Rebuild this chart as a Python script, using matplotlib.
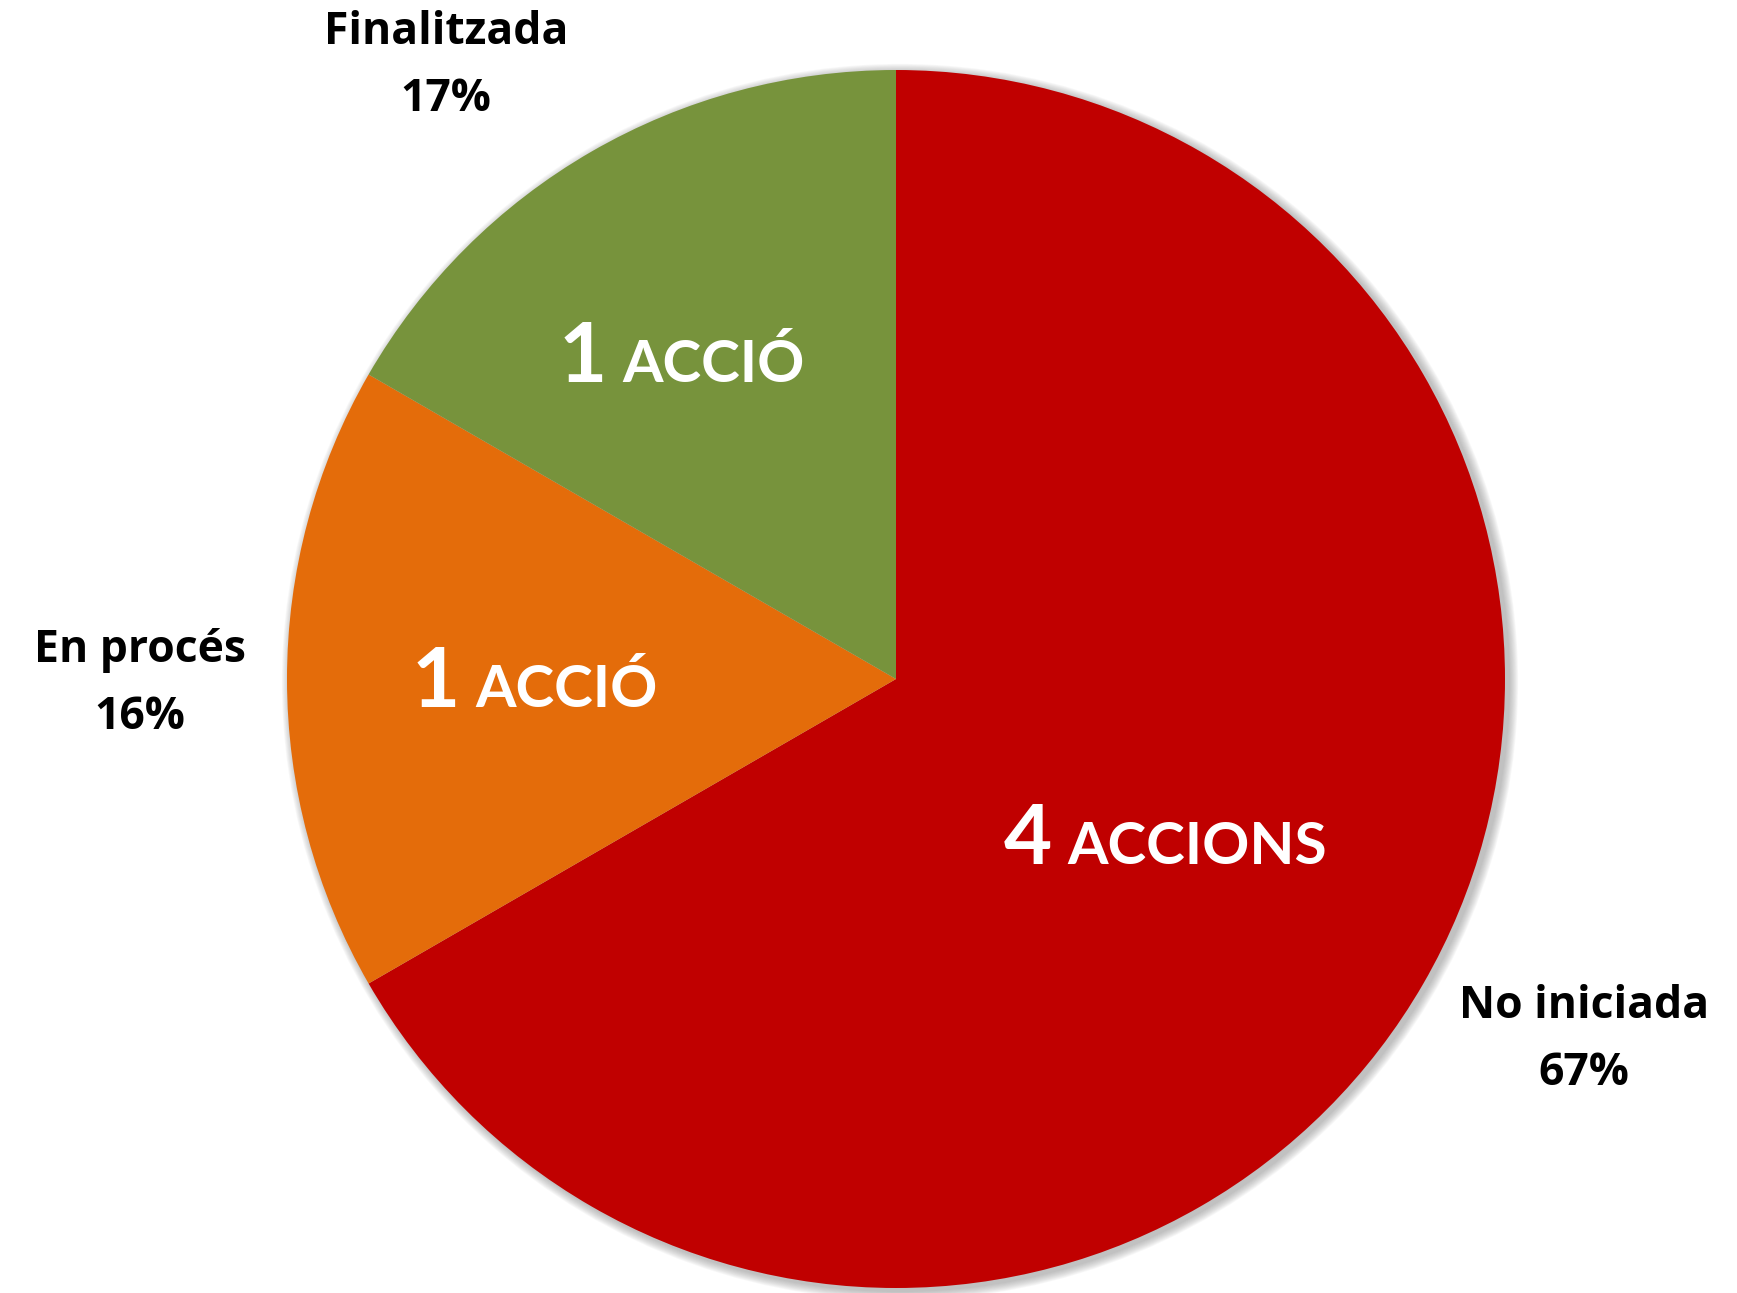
import matplotlib
matplotlib.use('Agg')
import matplotlib.pyplot as plt
from matplotlib.patches import Circle

# dades
estats = ['No iniciada', 'En procés', 'Finalitzada']
accions = [4, 1, 1]
percentatges = ['67%', '16%', '17%']
numeros = ['4', '1', '1']
paraules = ['ACCIONS', 'ACCIÓ', 'ACCIÓ']
colors = ['#C00000', '#E46C0A', '#77933C']

W, H = 1737, 1293
fig = plt.figure(figsize=(W / 100, H / 100), dpi=100)
ax = fig.add_axes([0, 0, 1, 1])

cx, cy, r = 896, H - 679, 609

# ombra suau
for i in range(10):
    ax.add_patch(Circle((cx + 4, cy - 3), r + 1 + i * 0.9, color='#808080',
                        alpha=0.06, lw=0, zorder=0))

ax.pie(accions, colors=colors, startangle=90, counterclock=False,
       center=(cx, cy), radius=r, wedgeprops=dict(linewidth=0),
       frame=True)
ax.set_xlim(0, W)
ax.set_ylim(0, H)
ax.axis('off')

# etiquetes exteriors
ext_pos = [(1584, H - 1040), (140, H - 684), (446, H - 66)]
for (x, y), e, p in zip(ext_pos, estats, percentatges):
    ax.text(x, y, e + '\n' + p, ha='center', va='center', fontsize=32,
            fontweight='bold', family='Open Sans', color='black',
            linespacing=1.62)

# etiquetes interiors (xifra gran + versaletes)
fig.canvas.draw()
rend = fig.canvas.get_renderer()
int_pos = [(1004, H - 864), (412, H - 707), (559, H - 382)]
for (x, y), n, w in zip(int_pos, numeros, paraules):
    t = ax.text(x, y, n, ha='left', va='baseline', fontsize=60,
                fontweight='bold', family='Lato', color='white')
    bb = t.get_window_extent(renderer=rend)
    ax.text(bb.x1 + 15, y, w, ha='left', va='baseline', fontsize=42,
            fontweight='bold', family='Lato', color='white')

fig.savefig('out.png', dpi=100, facecolor='white')
